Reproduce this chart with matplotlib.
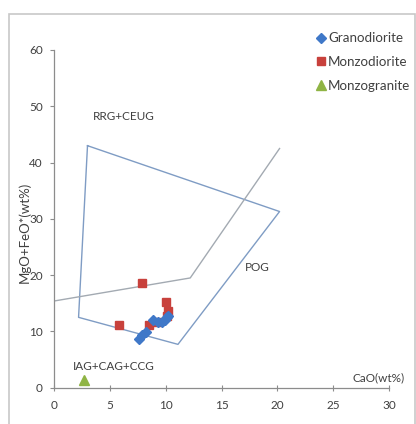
import numpy as np
import matplotlib.pyplot as plt
from matplotlib.patches import Rectangle

plt.rcParams["font.family"] = ["Lato", "DejaVu Sans"]

# sample data (CaO, MgO+FeO*)
grano_x = [7.6, 7.9, 8.2, 8.9, 9.3, 9.7, 9.9, 10.1, 10.2]
grano_y = [8.7, 9.4, 9.9, 12.1, 11.6, 11.6, 12.0, 12.5, 12.8]
monzod_x = [5.8, 7.9, 8.5, 9.2, 10.0, 10.2, 10.1]
monzod_y = [11.1, 18.6, 11.2, 11.7, 15.3, 13.6, 12.8]
monzog_x = [2.7]
monzog_y = [1.3]

# discrimination boundaries
box_x = [3.0, 20.2, 11.1, 2.2, 3.0]
box_y = [43.0, 31.3, 7.7, 12.5, 43.0]
line_x = [0.0, 12.2, 20.2]
line_y = [15.4, 19.5, 42.5]

txt = "#404040"

fig = plt.figure(figsize = (4.16, 4.24), dpi = 100)
ax = fig.add_axes([54 / 416, 36.3 / 424, 335 / 416, 337.7 / 424])

fig.patches.append(Rectangle((9 / 416, -0.1), 406 / 416, 0.1 + 410 / 424,
    transform = fig.transFigure, fill = False, edgecolor = "#c8c8c8", linewidth = 1.2))

ax.plot(box_x, box_y, color = "#7f9cc4", linewidth = 1.0, zorder = 1)
ax.plot(line_x, line_y, color = "#a3aab2", linewidth = 1.0, zorder = 1)

ax.plot(monzod_x, monzod_y, linestyle = "none", marker = "s", markersize = 5.5,
    color = "#c8413c", label = "Monzodiorite", zorder = 3)
ax.plot(grano_x, grano_y, linestyle = "none", marker = "D", markersize = 5,
    color = "#3f78c8", label = "Granodiorite", zorder = 4)
ax.plot(monzog_x, monzog_y, linestyle = "none", marker = "^", markersize = 7,
    color = "#8fb444", label = "Monzogranite", zorder = 3)

ax.set_xlim(0, 30)
ax.set_ylim(0, 60)
ax.set_xticks(np.arange(0, 31, 5))
ax.set_yticks(np.arange(0, 61, 10))
for s in ["top", "right"]:
    ax.spines[s].set_visible(False)
for s in ["left", "bottom"]:
    ax.spines[s].set_color("#8c8c8c")
    ax.spines[s].set_linewidth(0.9)
ax.tick_params(axis = "x", direction = "inout", length = 5, color = "#8c8c8c",
    labelsize = 8.5, labelcolor = txt, pad = 6)
ax.tick_params(axis = "y", direction = "out", length = 3, color = "#8c8c8c",
    labelsize = 8.5, labelcolor = txt, pad = 5)

ax.set_ylabel("MgO+FeO*(wt%)", fontsize = 9.5, color = txt)
ax.yaxis.set_label_coords(-0.07, 0.46)

ax.text(3.5, 48.1, "RRG+CEUG", fontsize = 8.5, color = txt, va = "center")
ax.text(17.1, 21.4, "POG", fontsize = 8.5, color = txt, va = "center")
ax.text(1.7, 3.7, "IAG+CAG+CCG", fontsize = 8.5, color = txt, va = "center")
ax.text(26.7, 1.8, "CaO(wt%)", fontsize = 8.5, color = txt, va = "center", clip_on = False)

handles, labels = ax.get_legend_handles_labels()
order = [1, 0, 2]
fig.legend([handles[i] for i in order], [labels[i] for i in order],
    loc = "upper left", bbox_to_anchor = (312 / 416, 1 - 27 / 424),
    frameon = False, fontsize = 9.6, handlelength = 0.6, handletextpad = 0.2,
    labelspacing = 0.88, borderaxespad = 0, labelcolor = txt)

fig.savefig("out.png")
